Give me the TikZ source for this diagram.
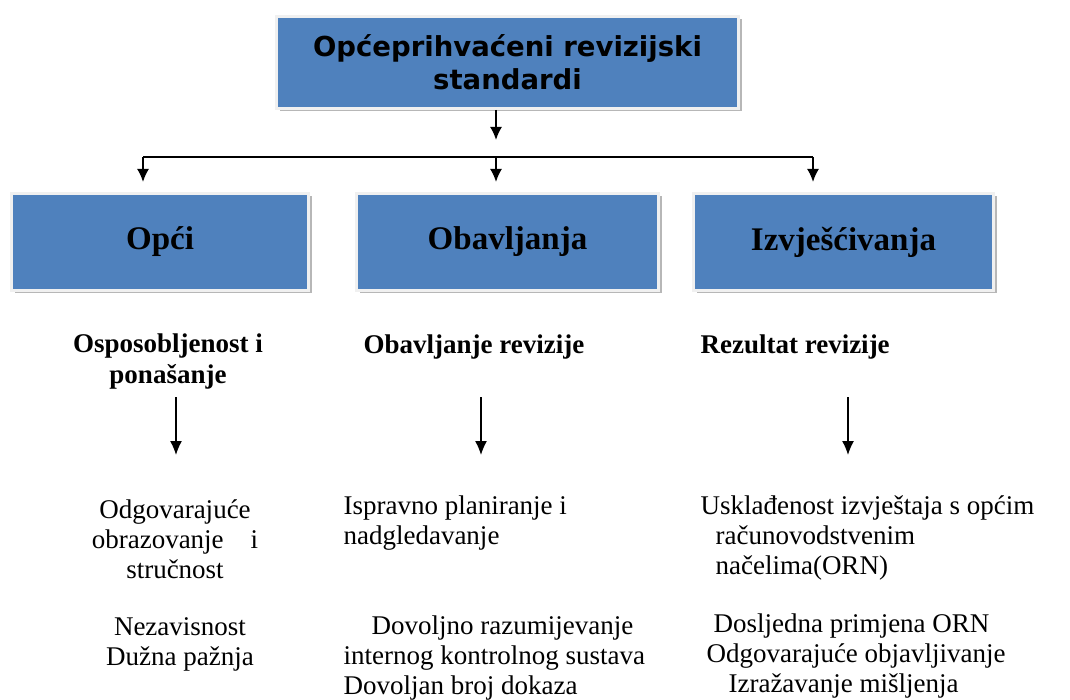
\documentclass[tikz,border=0pt]{standalone}
\usepackage{fontspec}
\setmainfont{Liberation Serif}
\newfontfamily\boxfont{DejaVu Sans}
\usetikzlibrary{arrows.meta,shadows}
\definecolor{boxblue}{HTML}{4F81BD}

\begin{document}
\begin{tikzpicture}[x=1pt,y=-1pt,
    box/.style={fill=boxblue,draw=black!6,line width=3pt,
      drop shadow={shadow xshift=3pt,shadow yshift=-3pt,fill=black!40,opacity=.7}},
    boxtxt/.style={font=\bfseries\fontsize{33}{36}\selectfont},
    arr/.style={-{Latex[length=13pt,width=12pt]},line width=1.8pt},
    thinarr/.style={-{Latex[length=14pt,width=12pt]},line width=1.3pt},
    head/.style={font=\bfseries\fontsize{27}{31}\selectfont,align=center},
    txt/.style={font=\fontsize{27}{30}\selectfont}]
  \useasboundingbox (0,0) rectangle (1070,700);

  % boxes
  \node[box,minimum width=462pt,minimum height=92pt,align=center,
        font=\boxfont\bfseries\fontsize{27.5}{33}\selectfont] (root) at (507.5,62.5)
        {Općeprihvaćeni revizijski\\standardi};
  \node[box,boxtxt,minimum width=297pt,minimum height=97pt] (opci) at (160,242) {Opći};
  \node[box,boxtxt,minimum width=302pt,minimum height=97pt] (obav) at (507.5,242) {Obavljanja};
  \node[box,boxtxt,minimum width=300pt,minimum height=97pt] (izvj) at (843.5,242) {Izvješćivanja};

  \coordinate (tip)   at (496,140);
  \coordinate (left)  at (143,157);
  \coordinate (mid)   at (496,157);
  \coordinate (right) at (813,157);

  \draw[arr] (root.south -| tip) -- (tip);
  \draw[line width=1.8pt] (left) -- (right);
  \begin{scope}[shorten >=10pt]
    \draw[arr] (left)  -- (left |- opci.north);
    \draw[arr] (mid)   -- (mid |- obav.north);
    \draw[arr] (right) -- (right |- izvj.north);
  \end{scope}

  % headings
  \node[head] (osp) at (168,362) {Osposobljenost i\\ponašanje};
  \node[head,anchor=west] (orev) at (360,347) {Obavljanje revizije};
  \node[head,anchor=west] (rrev) at (697,347) {Rezultat revizije};

  \coordinate (a1) at (176,397); \coordinate (b1) at (176,455);
  \coordinate (a2) at (481,397); \coordinate (b2) at (481,455);
  \coordinate (a3) at (848,397); \coordinate (b3) at (848,455);
  \draw[thinarr] (a1) -- (b1);
  \draw[thinarr] (a2) -- (b2);
  \draw[thinarr] (a3) -- (b3);

  % texts
  \node[txt,align=center] (odg) at (175,539) {Odgovarajuće\\obrazovanje\quad i\\stručnost};
  \node[txt,align=center] (nez) at (180,644) {Nezavisnost\\Dužna pažnja};
  \node[txt,align=left,anchor=west] (isp) at (340,523) {Ispravno planiranje i\\nadgledavanje};
  \node[txt,align=left,anchor=west] (dov) at (340,658)
    {\hspace*{28pt}Dovoljno razumijevanje\\internog kontrolnog sustava\\Dovoljan broj dokaza};
  \node[txt,align=left,anchor=west] (usk) at (697,538)
    {Usklađenost izvještaja s općim\\\hspace*{15pt}računovodstvenim\\\hspace*{15pt}načelima(ORN)};
  \node[txt,align=left,anchor=west] (dos) at (703,656)
    {\hspace*{7pt}Dosljedna primjena ORN\\Odgovarajuće objavljivanje\\\hspace*{22pt}Izražavanje mišljenja};
\end{tikzpicture}
\end{document}
